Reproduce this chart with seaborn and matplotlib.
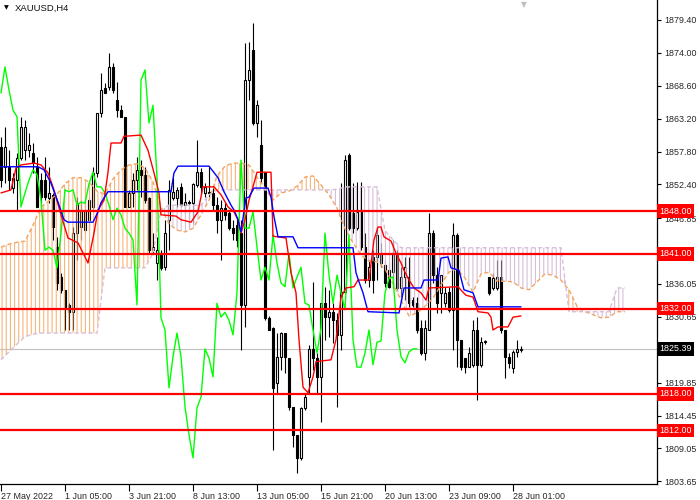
import numpy as np
import pandas as pd
import matplotlib
matplotlib.use('Agg')
import matplotlib.pyplot as plt
import seaborn as sns

# ---------------- data (XAUUSD, H4) ----------------
opens = [1858.5, 1855.3, 1855.3, 1851.8, 1853.1, 1856.7, 1858.0, 1858.0, 1857.6, 1855.3,
         1853.1, 1853.1, 1850.2, 1850.7, 1842.1, 1837.2, 1835.1, 1832.6, 1831.4, 1844.4,
         1845.4, 1848.2, 1846.6, 1848.7, 1854.3, 1864.1, 1868.2, 1868.4, 1871.7, 1866.3,
         1864.6, 1863.5, 1848.7, 1851.0, 1853.1, 1854.8, 1854.0, 1850.2, 1841.6, 1839.5,
         1840.8, 1838.8, 1846.6, 1850.2, 1850.2, 1852.0, 1849.0, 1849.5, 1849.3, 1852.3,
         1854.4, 1851.0, 1851.2, 1851.0, 1849.0, 1846.6, 1848.5, 1847.7, 1845.2, 1845.7,
         1844.4, 1832.6, 1869.5, 1874.5, 1862.5, 1858.9, 1854.4, 1830.5, 1828.8, 1819.8,
         1824.1, 1828.0, 1823.9, 1815.9, 1811.3, 1807.5, 1815.7, 1820.8, 1825.4, 1823.9,
         1820.8, 1832.9, 1830.6, 1831.4, 1830.1, 1827.7, 1834.7, 1857.2, 1847.7, 1845.2,
         1847.9, 1842.1, 1836.7, 1840.5, 1840.5, 1841.1, 1839.2, 1838.3, 1838.0, 1841.1,
         1835.4, 1837.2, 1837.2, 1833.4, 1832.9, 1828.8, 1824.7, 1828.5, 1844.4, 1837.5,
         1834.6, 1832.9, 1834.7, 1831.8, 1844.1, 1826.9, 1823.9, 1822.4, 1822.8, 1828.5,
         1822.8, 1826.5, 1837.2, 1835.4, 1835.4, 1837.2, 1828.5, 1824.1, 1822.3, 1824.9,
         1825.2]
highs = [1860.2, 1861.8, 1858.0, 1854.3, 1857.6, 1863.5, 1863.0, 1860.8, 1859.2, 1856.9,
         1854.3, 1856.9, 1855.3, 1851.0, 1843.8, 1837.9, 1835.1, 1832.9, 1845.4, 1850.3,
         1849.8, 1849.8, 1850.3, 1855.3, 1864.1, 1870.7, 1869.0, 1874.0, 1872.3, 1869.2,
         1865.4, 1863.5, 1851.5, 1854.3, 1856.9, 1856.4, 1855.3, 1850.3, 1844.4, 1843.8,
         1841.6, 1846.6, 1853.1, 1853.5, 1852.0, 1852.6, 1851.0, 1849.8, 1852.6, 1859.7,
         1855.1, 1852.6, 1855.3, 1851.8, 1850.3, 1849.8, 1849.3, 1848.2, 1846.6, 1847.0,
         1846.6, 1875.6, 1875.8, 1878.9, 1866.3, 1863.0, 1854.4, 1830.8, 1829.0, 1828.0,
         1828.2, 1828.0, 1823.9, 1815.9, 1811.3, 1815.9, 1818.2, 1826.0, 1836.4, 1824.7,
         1832.9, 1835.6, 1835.1, 1832.9, 1831.3, 1852.6, 1857.2, 1857.6, 1852.6, 1852.8,
         1852.8, 1844.4, 1840.0, 1841.6, 1845.2, 1842.8, 1840.0, 1839.5, 1843.3, 1841.6,
         1838.8, 1840.5, 1840.5, 1833.9, 1833.9, 1830.1, 1830.1, 1847.7, 1844.9, 1838.8,
         1837.5, 1835.6, 1835.6, 1846.1, 1844.4, 1826.9, 1823.9, 1825.7, 1830.1, 1830.6,
         1827.3, 1826.9, 1837.2, 1837.9, 1840.0, 1840.0, 1828.5, 1824.7, 1825.2, 1826.9,
         1825.9]
lows = [1852.0, 1852.6, 1851.5, 1851.0, 1848.2, 1856.4, 1856.4, 1856.9, 1854.3, 1848.7,
        1848.2, 1849.8, 1849.3, 1843.3, 1835.1, 1834.6, 1828.5, 1828.5, 1828.5, 1840.0,
        1843.3, 1844.4, 1844.9, 1848.2, 1853.6, 1863.5, 1867.4, 1867.9, 1867.4, 1863.5,
        1863.5, 1848.7, 1848.7, 1848.7, 1851.5, 1850.3, 1849.3, 1841.1, 1841.1, 1836.7,
        1838.3, 1838.3, 1841.6, 1849.8, 1848.7, 1848.7, 1847.7, 1845.4, 1846.1, 1852.0,
        1851.0, 1850.3, 1850.3, 1848.2, 1844.4, 1840.0, 1846.6, 1844.9, 1843.3, 1842.1,
        1825.2, 1829.0, 1866.3, 1862.2, 1860.2, 1852.6, 1830.1, 1828.5, 1808.8, 1818.1,
        1821.9, 1821.4, 1815.4, 1809.3, 1805.0, 1807.2, 1815.4, 1818.1, 1821.9, 1818.1,
        1813.4, 1826.9, 1827.3, 1826.4, 1815.9, 1825.2, 1834.6, 1844.9, 1844.4, 1844.9,
        1841.6, 1836.2, 1835.6, 1834.6, 1836.7, 1838.8, 1835.6, 1835.4, 1835.4, 1835.1,
        1833.9, 1833.4, 1832.3, 1832.3, 1828.0, 1824.4, 1823.6, 1828.5, 1836.2, 1831.3,
        1831.3, 1832.3, 1831.4, 1825.2, 1822.4, 1821.9, 1821.4, 1822.4, 1822.4, 1817.0,
        1822.4, 1826.2, 1834.3, 1835.1, 1835.1, 1828.0, 1820.6, 1822.3, 1821.4, 1824.1,
        1824.9]
closes = [1853.1, 1858.5, 1853.1, 1853.5, 1856.7, 1861.8, 1861.8, 1858.9, 1855.9, 1848.7,
          1850.3, 1850.3, 1851.0, 1845.4, 1836.2, 1835.1, 1832.3, 1831.4, 1844.4, 1849.3,
          1848.2, 1844.9, 1849.8, 1854.3, 1864.1, 1867.9, 1867.4, 1871.7, 1867.9, 1864.6,
          1863.5, 1848.7, 1851.0, 1853.1, 1854.8, 1854.0, 1849.8, 1841.6, 1842.1, 1841.6,
          1838.7, 1844.4, 1851.5, 1851.2, 1851.5, 1849.0, 1849.5, 1849.3, 1852.5, 1854.4,
          1852.0, 1852.0, 1851.0, 1849.0, 1846.6, 1848.5, 1847.4, 1845.2, 1844.4, 1843.3,
          1832.6, 1869.5, 1871.2, 1862.5, 1865.4, 1853.5, 1830.5, 1828.5, 1819.0, 1824.1,
          1828.0, 1824.1, 1815.9, 1811.3, 1807.5, 1815.7, 1817.5, 1825.4, 1823.9, 1820.8,
          1832.9, 1830.6, 1831.4, 1830.1, 1827.7, 1834.7, 1856.4, 1845.2, 1845.2, 1847.9,
          1842.1, 1836.7, 1838.8, 1836.7, 1844.1, 1839.5, 1836.2, 1835.6, 1841.1, 1835.4,
          1837.2, 1838.8, 1832.9, 1832.6, 1828.5, 1824.7, 1828.8, 1844.4, 1837.5, 1832.9,
          1837.5, 1834.6, 1831.8, 1844.1, 1826.9, 1822.4, 1822.4, 1824.7, 1828.5, 1822.8,
          1826.5, 1826.7, 1834.6, 1837.0, 1837.2, 1828.5, 1824.1, 1823.1, 1824.9, 1825.4,
          1825.39]

# Tenkan-sen (red) vertices: bar position, price
tenkan_bar = [0, 2.5, 3.75, 5, 8.25, 10, 11.75, 13.25, 15, 16.75, 19.25, 21.75, 23.25, 24.25,
              25.75, 26.75, 27.5, 30, 30.75, 35, 36.75, 38.25, 39.5, 40, 43.75, 45, 47.5, 49.25,
              50.5, 53.25, 55, 56.75, 58.25, 59.25, 60, 61, 62, 63, 64, 67.5, 68, 71.25, 72.5,
              73.75, 74.5, 75.5, 76.75, 78, 78.75, 82.5, 83.75, 85, 86.25, 88.25, 89.25, 92,
              93.25, 94.25, 95, 95.75, 97.5, 98.75, 100, 100.75, 102, 103.25, 105, 106.25, 107,
              114.25, 115.5, 116.25, 118, 119.25, 121.75, 122.5, 123, 124.25, 126.75, 128, 130]
tenkan_val = [1851.0, 1851.5, 1855.1, 1855.6, 1855.9, 1855.6, 1854.3, 1851.5, 1847.4, 1843.6,
              1842.8, 1839.5, 1844.4, 1848.2, 1849.8, 1854.4, 1859.2, 1859.2, 1860.3, 1860.5,
              1858.0, 1854.3, 1851.0, 1847.4, 1847.2, 1846.6, 1846.2, 1847.9, 1852.0, 1852.0,
              1850.7, 1848.7, 1847.9, 1846.6, 1844.4, 1846.6, 1849.8, 1852.0, 1854.4, 1854.4,
              1843.9, 1843.6, 1837.9, 1834.6, 1826.9, 1819.1, 1818.2, 1820.8, 1823.3, 1823.6,
              1826.9, 1833.9, 1835.4, 1835.6, 1836.7, 1836.7, 1843.3, 1845.4, 1845.4, 1843.8,
              1843.1, 1841.1, 1839.5, 1838.3, 1836.7, 1835.4, 1834.6, 1833.4, 1835.4, 1835.6,
              1834.7, 1834.2, 1833.9, 1831.5, 1831.3, 1830.6, 1828.5, 1829.0, 1829.0, 1830.6,
              1830.8]

# Kijun-sen (blue) vertices
kijun_bar = [0, 9.25, 10.75, 12.5, 14.25, 15.75, 16.75, 23, 24.25, 25, 26.75, 42.5, 43.25, 44.25,
             52, 54.25, 55.75, 57.5, 58.25, 59.25, 60, 61.25, 62, 63.25, 66.75, 67.5, 68.25, 69.25,
             73, 74.25, 88, 88.75, 89.5, 90.5, 91.75, 99.5, 100.75, 105, 105.75, 109.25, 110,
             111.75, 112.5, 114.5, 115.75, 118, 119.25, 130]
kijun_val = [1855.3, 1855.3, 1854.8, 1852.6, 1849.5, 1846.6, 1846.2, 1846.2, 1847.9, 1849.4,
             1851.2, 1851.2, 1854.3, 1855.4, 1855.4, 1853.5, 1851.2, 1849.0, 1848.2, 1846.6,
             1844.6, 1850.2, 1850.3, 1851.8, 1851.8, 1850.3, 1847.1, 1843.8, 1843.8, 1842.0,
             1842.0, 1837.9, 1836.4, 1834.6, 1831.5, 1831.3, 1835.4, 1835.4, 1836.7, 1836.7,
             1840.3, 1840.5, 1838.7, 1838.3, 1835.1, 1834.6, 1832.3, 1832.3]

# Senkou Span A / B (cloud, projected 26 bars ahead), every 2 bars
cloud_bar = list(range(0, 157, 2))
span_a = [1842.1, 1842.6, 1842.9, 1843.1, 1845.7, 1848.7, 1849.7, 1850.8, 1852.5, 1853.5,
          1853.5, 1852.8, 1851.3, 1850.8, 1853.3, 1854.8, 1855.6, 1855.8, 1855.1, 1852.8,
          1848.7, 1845.9, 1844.9, 1844.6, 1845.2, 1847.4, 1849.8, 1853.8, 1855.4, 1855.9,
          1855.9, 1855.6, 1853.6, 1851.8, 1849.8, 1851.0, 1851.3, 1852.1, 1853.6, 1853.8,
          1852.3, 1850.7, 1848.5, 1845.1, 1842.8, 1840.8, 1839.8, 1839.7, 1838.5, 1836.1,
          1833.4, 1830.8, 1831.3, 1832.4, 1833.7, 1835.9, 1838.0, 1838.5, 1837.0, 1834.7,
          1837.7, 1838.0, 1836.5, 1836.5, 1836.4, 1835.4, 1835.1, 1836.4, 1837.7, 1837.5,
          1836.7, 1835.1, 1832.4, 1831.5, 1831.0, 1830.5, 1830.6, 1831.5, 1831.5]
span_b = [1823.6, 1824.9, 1826.2, 1827.4, 1827.8, 1828.0, 1828.0, 1828.0, 1828.0, 1828.0,
          1828.0, 1828.0, 1828.0, 1838.7, 1838.7, 1838.7, 1838.7, 1838.7, 1838.7, 1841.1,
          1848.2, 1849.0, 1849.0, 1849.0, 1849.0, 1849.0, 1850.7, 1851.5, 1851.5, 1851.5,
          1851.5, 1851.5, 1851.5, 1851.5, 1851.5, 1851.5, 1851.5, 1851.5, 1851.5, 1851.5,
          1851.5, 1851.5, 1851.6, 1852.0, 1852.0, 1852.0, 1852.0, 1852.0, 1844.8, 1843.3,
          1842.0, 1842.0, 1842.0, 1842.0, 1842.0, 1842.0, 1842.0, 1842.0, 1842.0, 1842.0,
          1842.0, 1842.0, 1842.0, 1842.0, 1842.0, 1842.0, 1842.0, 1842.0, 1842.0, 1842.0,
          1842.0, 1831.5, 1831.5, 1831.5, 1831.5, 1831.5, 1831.5, 1835.4, 1835.4]

chikou_shift = 26

# horizontal levels and current price
levels = [1848.00, 1841.00, 1832.00, 1818.00, 1812.00]
current_price = 1825.39

# axis labels
ytick_vals = [1879.40, 1874.00, 1868.60, 1863.20, 1857.80, 1852.40, 1846.85,
              1836.05, 1830.65, 1819.85, 1814.45, 1809.05, 1803.65]
xtick_bars = [0, 16, 32, 48, 64, 80, 96, 112, 128]
xtick_labels = ['27 May 2022', '1 Jun 05:00', '3 Jun 21:00', '8 Jun 13:00', '13 Jun 05:00',
                '15 Jun 21:00', '20 Jun 13:00', '23 Jun 09:00', '28 Jun 01:00']
title = 'XAUUSD,H4'

# ---------------- styling ----------------
sns.set_style('white')
plt.rcParams['font.family'] = ['Liberation Sans', 'DejaVu Sans']
plt.rcParams['hatch.linewidth'] = 0.8
FS = 6.4

fig = plt.figure(figsize=(7, 5), dpi=100)
ax = fig.add_axes([0, 16 / 500, 657 / 700, 484 / 500])

o = np.array(opens); h = np.array(highs); l = np.array(lows); c = np.array(closes)
bars = np.arange(len(o))

# candles
ax.vlines(bars, l, h, color='black', linewidth=0.8, zorder=2)
bottoms = np.minimum(o, c)
heights = np.maximum(np.abs(c - o), 0.12)
faces = np.where(c >= o, 'white', 'black')
ax.bar(bars, heights, bottom=bottoms, width=0.5, color=faces, edgecolor='black',
       linewidth=0.8, zorder=2)

# cloud hatch
cb = np.array(cloud_bar, dtype=float)
sa = np.array(span_a); sb = np.array(span_b)
ax.fill_between(cb, sa, sb, where=sa >= sb, interpolate=True, facecolor='none',
                edgecolor='#F6B47C', hatch='||||', linewidth=0, zorder=3)
ax.fill_between(cb, sa, sb, where=sb > sa, interpolate=True, facecolor='none',
                edgecolor='#D8BFD8', hatch='||||', linewidth=0, zorder=3)

# indicator lines (seaborn)
sns.lineplot(x=cb, y=sa, ax=ax, color='#F4A460', linewidth=1, linestyle=(0, (3, 2)),
             sort=False, estimator=None, zorder=4)
sns.lineplot(x=cb, y=sb, ax=ax, color='#D8BFD8', linewidth=1, linestyle=(0, (3, 2)),
             sort=False, estimator=None, zorder=4)
chikou = pd.Series(closes).shift(-chikou_shift)
sns.lineplot(x=bars, y=chikou.values, ax=ax, color='#00FF00', linewidth=1,
             sort=False, estimator=None, zorder=4)
sns.lineplot(x=tenkan_bar, y=tenkan_val, ax=ax, color='#FF0000', linewidth=1,
             sort=False, estimator=None, zorder=5)
sns.lineplot(x=kijun_bar, y=kijun_val, ax=ax, color='#0000FF', linewidth=1,
             sort=False, estimator=None, zorder=5)

# horizontal lines
ax.axhline(current_price, color='#C0C0C0', linewidth=0.8, zorder=1)
for lv in levels:
    ax.axhline(lv, color='#FF0000', linewidth=1.6, zorder=6)

ax.set_xlim(-0.25, 164.0)
ax.set_ylim(1803.21, 1882.68)

# axes / ticks
for s in ['left', 'top']:
    ax.spines[s].set_visible(False)
for s in ['right', 'bottom']:
    ax.spines[s].set_color('black')
    ax.spines[s].set_linewidth(0.9)

ax.yaxis.tick_right()
ax.set_yticks(ytick_vals)
ax.set_yticklabels([f'{v:.2f}' for v in ytick_vals])
ax.tick_params(axis='y', right=True, left=False, labelright=True, labelleft=False,
               length=3, width=0.8, pad=2, labelsize=FS, direction='out', color='black')
ax.set_xticks(xtick_bars)
ax.set_xticklabels(xtick_labels)
ax.tick_params(axis='x', bottom=True, length=5, width=0.8, pad=1, labelsize=FS,
               direction='out', color='black')
for lbl in ax.get_xticklabels():
    lbl.set_horizontalalignment('left')
ax.set_xlabel('')
ax.set_ylabel('')
ax.grid(False)

# right-side price boxes
ytrans = ax.get_yaxis_transform()
for lv in levels:
    ax.text(1.004, lv, f'{lv:.2f}', transform=ytrans, ha='left', va='center', color='white',
            fontsize=FS, zorder=10, clip_on=False,
            bbox=dict(boxstyle='square,pad=0.25', fc='#FF0000', ec='none'))
ax.text(1.004, current_price, f'{current_price:.2f}', transform=ytrans, ha='left', va='center',
        color='white', fontsize=FS, zorder=10, clip_on=False,
        bbox=dict(boxstyle='square,pad=0.25', fc='black', ec='none'))

# title and markers
fig.text(15 / 700, 1 - 8 / 500, title, fontsize=6.8, ha='left', va='center', color='#101010')
fig.text(6 / 700, 1 - 8 / 500, '\u25BC', fontsize=4.5, ha='center', va='center', color='black',
         family=['DejaVu Sans'])
fig.text(524 / 700, 1 - 5 / 500, '\u25BC', fontsize=5.5, ha='center', va='center', color='#C0C0C0',
         family=['DejaVu Sans'])

fig.savefig('out.png', dpi=100)
